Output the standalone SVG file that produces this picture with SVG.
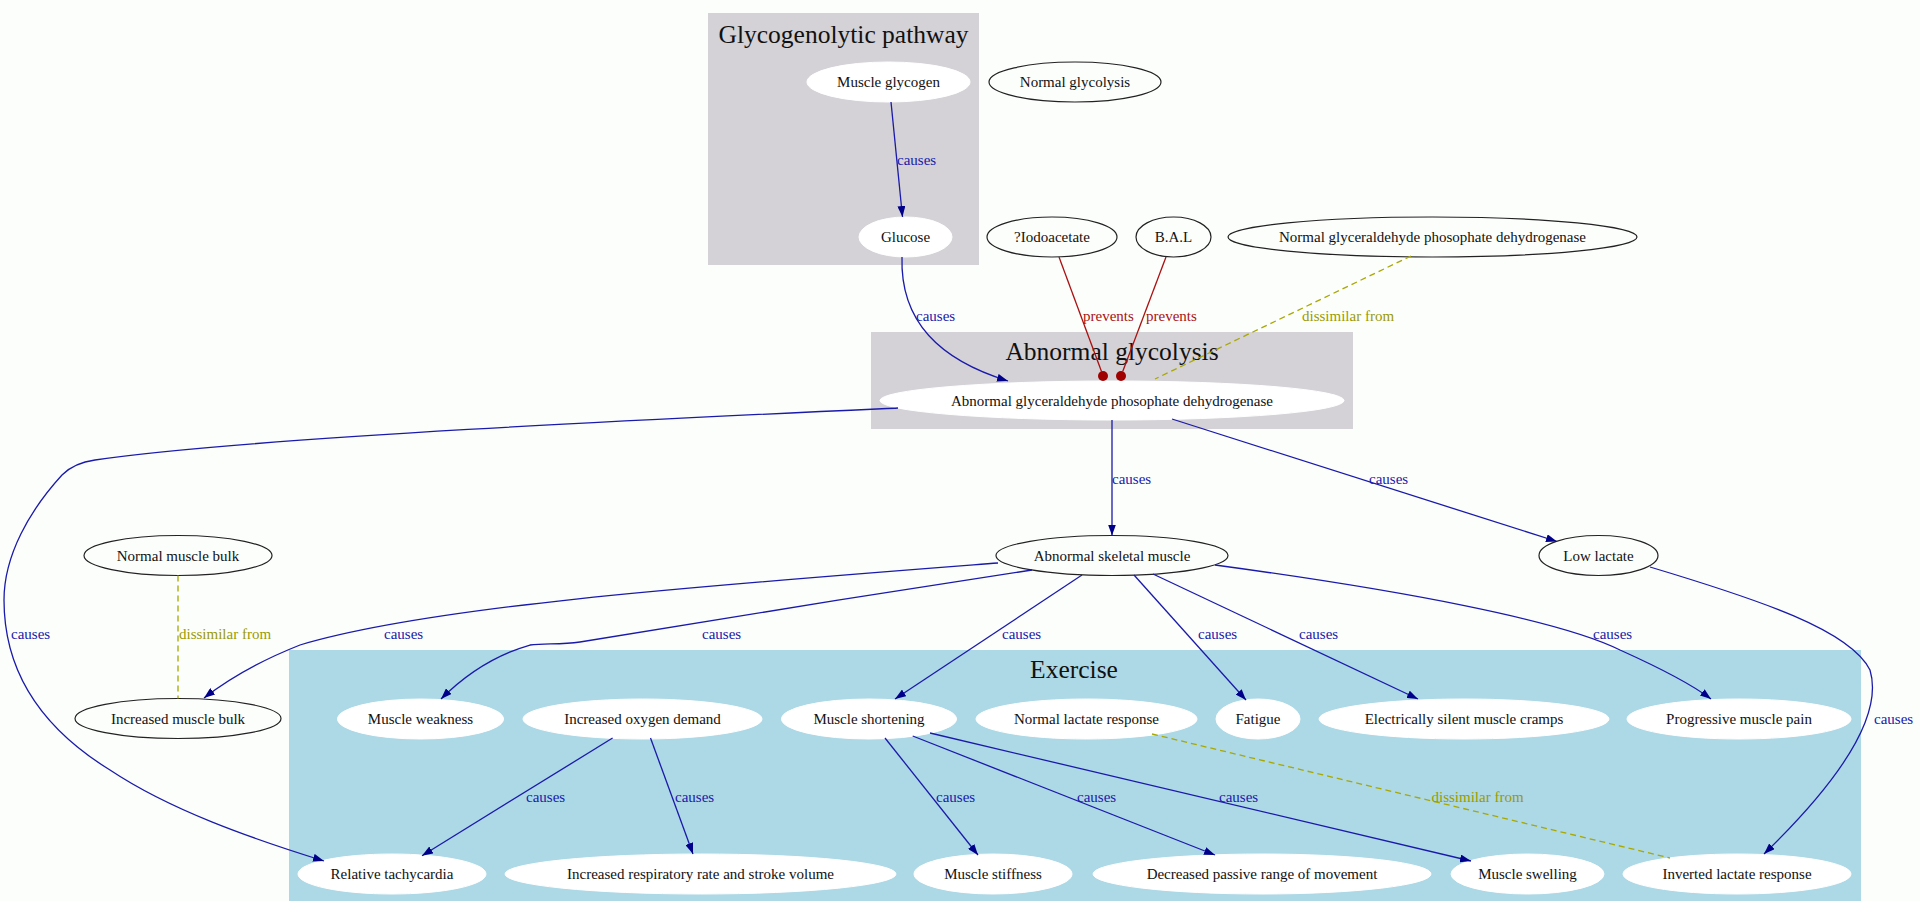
<svg xmlns="http://www.w3.org/2000/svg" width="1920" height="901" viewBox="0 0 1920 901">
  <style>
    .bg { fill: #fcfefc; }
    .cl-grey { fill: #d4d2d6; }
    .cl-blue { fill: #add8e6; }
    .ctitle { font-family: "Liberation Serif", "Times New Roman", serif; font-size: 25.5px; fill: #111; text-anchor: middle; }
    .n-in ellipse { fill: #ffffff; stroke: #ffffff; stroke-width: 1; }
    .n-out ellipse { fill: #fcfefc; stroke: #222; stroke-width: 1.2; }
    .node text { font-family: "Liberation Serif", "Times New Roman", serif; font-size: 15px; fill: #111; text-anchor: middle; }
    .e { fill: none; stroke-width: 1.3; }
    .causes { stroke: #1a1aaa; }
    .prevents { stroke: #aa1111; }
    .dissim { stroke: #a8a800; stroke-dasharray: 6,4; }
    .lbl { font-family: "Liberation Serif", "Times New Roman", serif; font-size: 15px; }
    .lc { fill: #1a1aaa; }
    .lp { fill: #aa1111; }
    .ld { fill: #9a9a00; }
  </style>
  <defs>
    <marker id="arrow" markerUnits="userSpaceOnUse" markerWidth="12" markerHeight="8" refX="11" refY="4" orient="auto">
      <path d="M0,0 L11,4 L0,8 z" fill="#00008b"/>
    </marker>
  </defs>

  <rect class="bg" x="0" y="0" width="1920" height="901"/>

  <!-- clusters -->
  <g id="cluster_glycogenolytic">
    <rect class="cl-grey" x="708" y="13" width="271" height="252"/>
    <text class="ctitle" x="843.5" y="43">Glycogenolytic pathway</text>
  </g>
  <g id="cluster_abnormal_glycolysis">
    <rect class="cl-grey" x="871" y="332" width="482" height="97"/>
    <text class="ctitle" x="1112" y="360">Abnormal glycolysis</text>
  </g>
  <g id="cluster_exercise">
    <rect class="cl-blue" x="289" y="650" width="1572" height="251"/>
    <text class="ctitle" x="1074" y="678">Exercise</text>
  </g>

  <!-- nodes -->
  <g id="muscle_glycogen" class="node n-in"><ellipse cx="888.5" cy="82" rx="81.5" ry="20"/><text x="888.5" y="87">Muscle glycogen</text></g>
  <g id="normal_glycolysis" class="node n-out"><ellipse cx="1075" cy="82" rx="86" ry="20"/><text x="1075" y="87">Normal glycolysis</text></g>
  <g id="glucose" class="node n-in"><ellipse cx="905.5" cy="237" rx="46.5" ry="20"/><text x="905.5" y="242">Glucose</text></g>
  <g id="iodoacetate" class="node n-out"><ellipse cx="1052" cy="237" rx="65" ry="20"/><text x="1052" y="242">?Iodoacetate</text></g>
  <g id="bal" class="node n-out"><ellipse cx="1173.5" cy="237" rx="37.5" ry="20"/><text x="1173.5" y="242">B.A.L</text></g>
  <g id="normal_gapdh" class="node n-out"><ellipse cx="1432.5" cy="237" rx="204.5" ry="20"/><text x="1432.5" y="242">Normal glyceraldehyde phosophate dehydrogenase</text></g>
  <g id="abnormal_gapdh" class="node n-in"><ellipse cx="1112" cy="400.5" rx="232" ry="19.5"/><text x="1112" y="405.5">Abnormal glyceraldehyde phosophate dehydrogenase</text></g>
  <g id="abnormal_skeletal_muscle" class="node n-out"><ellipse cx="1112" cy="555.5" rx="116" ry="20"/><text x="1112" y="560.5">Abnormal skeletal muscle</text></g>
  <g id="low_lactate" class="node n-out"><ellipse cx="1598.5" cy="555.5" rx="59.5" ry="20"/><text x="1598.5" y="560.5">Low lactate</text></g>
  <g id="normal_muscle_bulk" class="node n-out"><ellipse cx="178" cy="555.5" rx="94" ry="20"/><text x="178" y="560.5">Normal muscle bulk</text></g>
  <g id="increased_muscle_bulk" class="node n-out"><ellipse cx="178" cy="718.5" rx="103" ry="20"/><text x="178" y="723.5">Increased muscle bulk</text></g>

  <g id="muscle_weakness" class="node n-in"><ellipse cx="420.5" cy="719" rx="83" ry="20"/><text x="420.5" y="724">Muscle weakness</text></g>
  <g id="increased_oxygen_demand" class="node n-in"><ellipse cx="642.5" cy="719" rx="119.5" ry="20"/><text x="642.5" y="724">Increased oxygen demand</text></g>
  <g id="muscle_shortening" class="node n-in"><ellipse cx="869" cy="719" rx="87.5" ry="20"/><text x="869" y="724">Muscle shortening</text></g>
  <g id="normal_lactate_response" class="node n-in"><ellipse cx="1086.5" cy="719" rx="110.5" ry="20"/><text x="1086.5" y="724">Normal lactate response</text></g>
  <g id="fatigue" class="node n-in"><ellipse cx="1258" cy="719" rx="42" ry="20"/><text x="1258" y="724">Fatigue</text></g>
  <g id="electrically_silent_cramps" class="node n-in"><ellipse cx="1464" cy="719" rx="145" ry="20"/><text x="1464" y="724">Electrically silent muscle cramps</text></g>
  <g id="progressive_muscle_pain" class="node n-in"><ellipse cx="1739" cy="719" rx="112" ry="20"/><text x="1739" y="724">Progressive muscle pain</text></g>

  <g id="relative_tachycardia" class="node n-in"><ellipse cx="392" cy="874" rx="94" ry="20"/><text x="392" y="879">Relative tachycardia</text></g>
  <g id="increased_respiratory_rate" class="node n-in"><ellipse cx="700.5" cy="874" rx="195.5" ry="20"/><text x="700.5" y="879">Increased respiratory rate and stroke volume</text></g>
  <g id="muscle_stiffness" class="node n-in"><ellipse cx="993" cy="874" rx="79" ry="20"/><text x="993" y="879">Muscle stiffness</text></g>
  <g id="decreased_passive_range" class="node n-in"><ellipse cx="1262" cy="874" rx="169" ry="20"/><text x="1262" y="879">Decreased passive range of movement</text></g>
  <g id="muscle_swelling" class="node n-in"><ellipse cx="1527.5" cy="874" rx="76.5" ry="20"/><text x="1527.5" y="879">Muscle swelling</text></g>
  <g id="inverted_lactate_response" class="node n-in"><ellipse cx="1737" cy="874" rx="114" ry="20"/><text x="1737" y="879">Inverted lactate response</text></g>

  <!-- connectors -->
  <g id="connectors">
    <path class="e causes" marker-end="url(#arrow)" d="M891,102 L902.5,217"/>
    <text class="lbl lc" x="897" y="165">causes</text>

    <path class="e causes" marker-end="url(#arrow)" d="M902,257 C900,322 940,360 1008,381"/>
    <text class="lbl lc" x="916" y="321">causes</text>

    <path class="e prevents" d="M1059,257 L1101.5,371.5"/>
    <circle cx="1103" cy="376" r="5" fill="#a00000"/>
    <text class="lbl lp" x="1083" y="321">prevents</text>

    <path class="e prevents" d="M1166,257 L1122.8,371.3"/>
    <circle cx="1121" cy="376" r="5" fill="#a00000"/>
    <text class="lbl lp" x="1146" y="321">prevents</text>

    <path class="e dissim" d="M1411,256 L1155,379"/>
    <text class="lbl ld" x="1302" y="321">dissimilar from</text>

    <path class="e causes" marker-end="url(#arrow)" d="M1112,420 L1112,535.5"/>
    <text class="lbl lc" x="1112" y="484">causes</text>

    <path class="e causes" marker-end="url(#arrow)" d="M1172,419 L1557,541.5"/>
    <text class="lbl lc" x="1369" y="484">causes</text>

    <path class="e causes" marker-end="url(#arrow)" d="M898,408 C700,417 250,437 95,460 C80,462 70,467 62,475 C30,510 4,555 4,600 C4,675 45,730 110,770 C170,810 250,838 324,861"/>
    <text class="lbl lc" x="11" y="639">causes</text>

    <path class="e causes" marker-end="url(#arrow)" d="M998,563 C700,586 430,606 300,645 C262,660 230,678 204,698"/>
    <text class="lbl lc" x="384" y="639">causes</text>

    <path class="e causes" marker-end="url(#arrow)" d="M1032,570 C900,590 650,630 580,642 C560,645 545,643 530,645 C495,655 465,675 441,699"/>
    <text class="lbl lc" x="702" y="639">causes</text>

    <path class="e causes" marker-end="url(#arrow)" d="M1082,575 L895,699"/>
    <text class="lbl lc" x="1002" y="639">causes</text>

    <path class="e causes" marker-end="url(#arrow)" d="M1134,575 L1246,700"/>
    <text class="lbl lc" x="1198" y="639">causes</text>

    <path class="e causes" marker-end="url(#arrow)" d="M1153,574 L1418,699"/>
    <text class="lbl lc" x="1299" y="639">causes</text>

    <path class="e causes" marker-end="url(#arrow)" d="M1215,565 C1400,590 1560,620 1620,650 C1660,668 1690,683 1711,699"/>
    <text class="lbl lc" x="1593" y="639">causes</text>

    <path class="e causes" marker-end="url(#arrow)" d="M1650,567 C1760,600 1850,630 1870,670 C1885,720 1830,790 1764,854"/>
    <text class="lbl lc" x="1874" y="724">causes</text>

    <path class="e dissim" d="M178,575.5 L178,698.5"/>
    <text class="lbl ld" x="179" y="639">dissimilar from</text>

    <path class="e causes" marker-end="url(#arrow)" d="M612.6,738 L422,855.7"/>
    <text class="lbl lc" x="526" y="802">causes</text>

    <path class="e causes" marker-end="url(#arrow)" d="M650.5,738 L693,854"/>
    <text class="lbl lc" x="675" y="802">causes</text>

    <path class="e causes" marker-end="url(#arrow)" d="M885,738 L978,855"/>
    <text class="lbl lc" x="936" y="802">causes</text>

    <path class="e causes" marker-end="url(#arrow)" d="M912.7,736 L1215,855"/>
    <text class="lbl lc" x="1077" y="802">causes</text>

    <path class="e causes" marker-end="url(#arrow)" d="M930,733 L1471,861"/>
    <text class="lbl lc" x="1219" y="802">causes</text>

    <path class="e dissim" d="M1152,734 L1670,858"/>
    <text class="lbl ld" x="1431.5" y="802">dissimilar from</text>
  </g>
</svg>
